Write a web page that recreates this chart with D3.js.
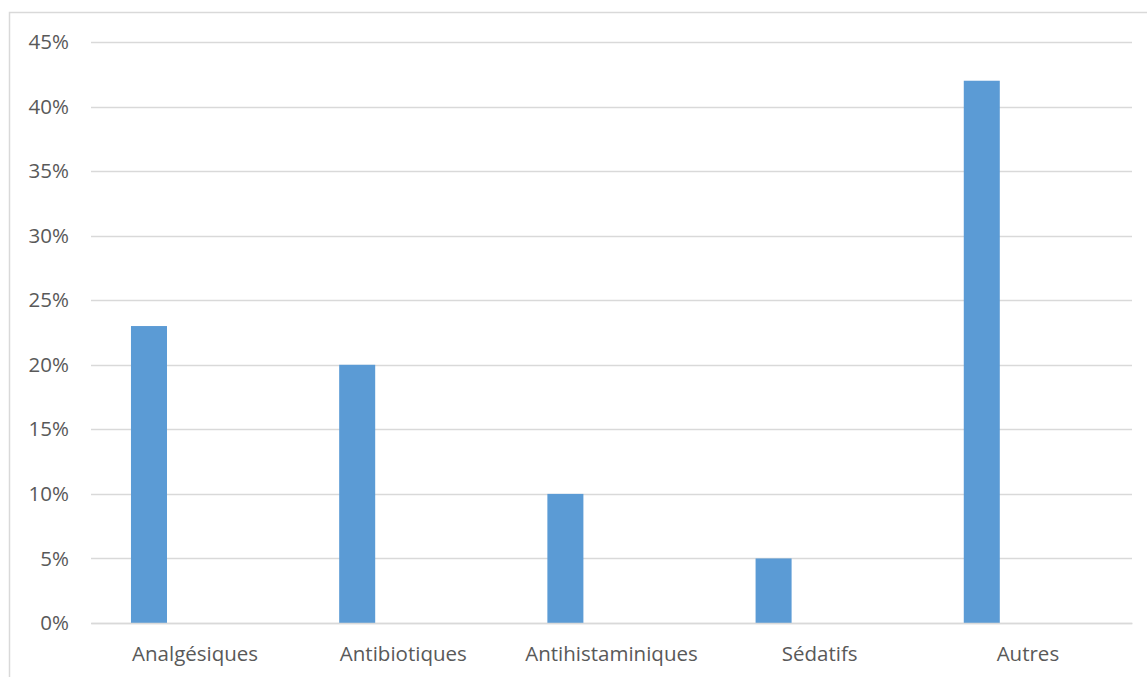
<!DOCTYPE html>
<html>
<head>
<meta charset="utf-8">
<script src="https://cdn.jsdelivr.net/npm/d3@7"></script>
<style>
  html, body { margin: 0; padding: 0; background: #fff; }
  svg { display: block; }
</style>
</head>
<body>
<svg id="chart" width="1147" height="677"></svg>
<script>
// Répartition des médicaments par classe
const categories = ["Analgésiques", "Antibiotiques", "Antihistaminiques", "Sédatifs", "Autres"];
const values = [0.23, 0.20, 0.10, 0.05, 0.42];
const yTicks = [0, 0.05, 0.10, 0.15, 0.20, 0.25, 0.30, 0.35, 0.40, 0.45];
const series = ["valeur", "vide"];

const svg = d3.select("#chart");
const W = 1147, H = 677;
const font = "'Open Sans', 'DejaVu Sans', sans-serif";
const textColor = "#595959";
const gridColor = "#d9d9d9";

// Chart area frame
svg.append("rect")
  .attr("x", 9.5).attr("y", 12.5)
  .attr("width", W + 20).attr("height", H + 20)
  .attr("fill", "#fff")
  .attr("stroke", "#d9d9d9").attr("stroke-width", 1.5);

const plot = { left: 91, right: 1132, top: 42, bottom: 623 };

const y = d3.scaleLinear().domain([0, 0.45]).range([plot.bottom, plot.top]);
const x = d3.scaleBand().domain(categories).range([plot.left, plot.right]).padding(0);
// Bars sit in the first slot of each category group
const bw = x.bandwidth();
const xs = d3.scaleBand().domain(series)
  .range([bw * 0.192, bw * 0.192 + bw * 0.346]).padding(0);

// Gridlines
svg.append("g")
  .selectAll("line")
  .data(yTicks)
  .join("line")
  .attr("x1", plot.left).attr("x2", plot.right)
  .attr("y1", d => Math.round(y(d)) + 0.5).attr("y2", d => Math.round(y(d)) + 0.5)
  .attr("stroke", gridColor).attr("stroke-width", 1.5);

// Y axis labels
const yAxis = d3.axisLeft(y).tickValues(yTicks).tickFormat(d3.format(".0%")).tickSize(0).tickPadding(22);
const gy = svg.append("g").attr("transform", `translate(${plot.left},0)`).call(yAxis);
gy.select(".domain").remove();
gy.selectAll("text")
  .attr("fill", textColor)
  .style("font-family", font).style("font-size", "20.5px");

// Bars
svg.append("g")
  .selectAll("rect")
  .data(categories.map((c, i) => ({ c, v: values[i] })))
  .join("rect")
  .attr("x", d => x(d.c) + xs("valeur"))
  .attr("width", xs.bandwidth())
  .attr("y", d => y(d.v))
  .attr("height", d => y(0) - y(d.v))
  .attr("fill", "#5b9bd5");

// X axis
const xAxis = d3.axisBottom(x).tickSize(0).tickPadding(23);
const gx = svg.append("g").attr("transform", `translate(0,${plot.bottom})`).call(xAxis);
gx.select(".domain").attr("stroke", gridColor).attr("stroke-width", 1.5);
gx.selectAll("text")
  .attr("fill", textColor)
  .style("font-family", font).style("font-size", "20.5px");
</script>
</body>
</html>
